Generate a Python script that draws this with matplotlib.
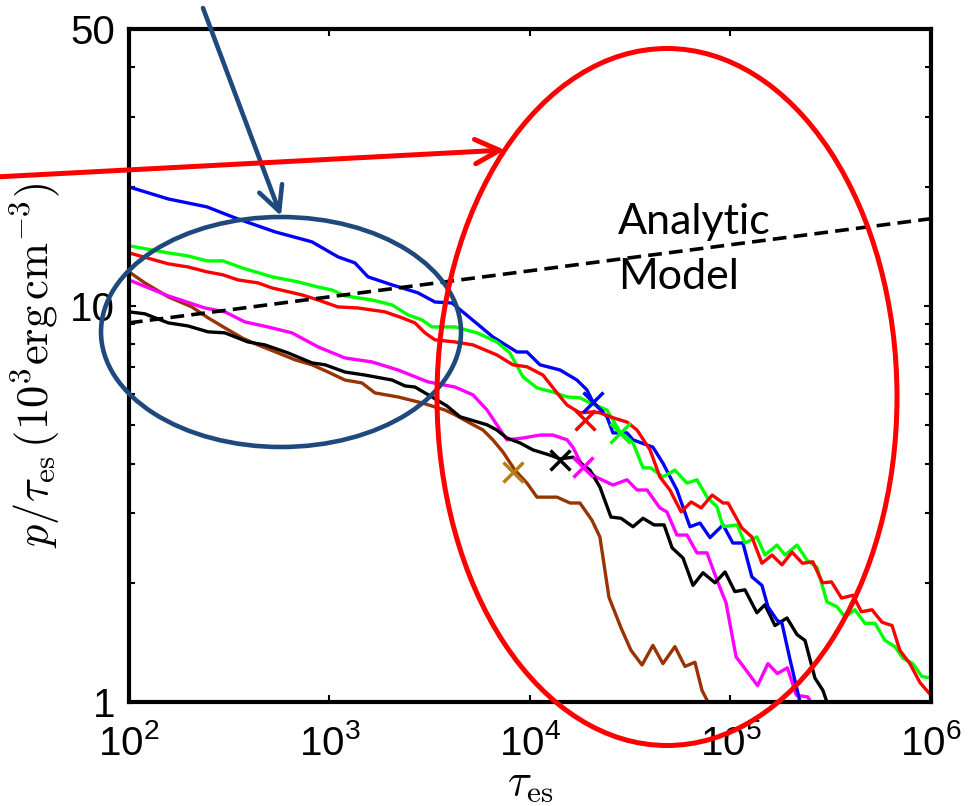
import matplotlib
matplotlib.use("Agg")
import matplotlib.pyplot as plt
from matplotlib.patches import Ellipse
from matplotlib.ticker import NullLocator, NullFormatter

plt.rcParams['font.family'] = ['Liberation Sans', 'DejaVu Sans']
plt.rcParams['mathtext.fontset'] = 'cm'

# --- data (tau_es, p/tau_es) ---
blue_tau = [100, 157, 245, 338, 535, 818, 1102, 1340, 1556, 2051, 2762, 3358, 4083, 5023, 6531, 8610, 9661,
            11220, 14130, 17140, 19230, 20610, 24210, 25940, 30480, 32660, 41030, 46030, 54080, 62810, 70470,
            79070, 91830, 102800, 115400, 127900, 143600, 153800, 170600, 180700, 198200, 222300]
blue_p = [19.97, 18.62, 17.78, 16.68, 15.38, 14.51, 13.30, 12.84, 11.84, 11.30, 10.79, 10.23, 10.17, 9.33, 8.35,
          7.65, 7.65, 7.10, 6.89, 6.50, 6.14, 5.72, 5.25, 4.78, 4.78, 4.59, 4.40, 4.01, 3.43, 2.77, 2.83, 2.60,
          2.80, 2.52, 2.52, 2.07, 1.97, 1.74, 1.61, 1.58, 1.28, 1.00]

green_tau = [100, 157, 197, 245, 294, 367, 517, 697, 877, 1029, 1194, 1630, 2051, 2466, 2892, 3245, 4228, 5446,
             6839, 7943, 9226, 10840, 13030, 15310, 17750, 19910, 24210, 28120, 32660, 36640, 40110, 46030,
             52840, 60670, 68080, 76380, 85700, 91830, 107900, 118100, 135500, 148600, 170600, 187100, 214800,
             241000, 270000, 302900, 339800, 372400, 417800, 468800, 526000, 590200, 660700, 724400, 812800,
             901500, 1000000]
green_p = [14.18, 13.61, 13.37, 12.99, 12.99, 12.47, 11.84, 11.50, 11.16, 10.97, 10.60, 10.35, 10.06, 9.49, 9.22,
           8.85, 8.85, 8.55, 8.11, 7.61, 6.62, 6.21, 6.06, 5.89, 5.86, 5.69, 5.46, 4.81, 4.51, 3.90, 3.90, 3.70,
           3.85, 3.57, 3.64, 3.29, 3.11, 2.77, 2.80, 2.52, 2.61, 2.35, 2.49, 2.35, 2.49, 2.28, 2.19, 1.79, 1.74,
           1.64, 1.71, 1.58, 1.58, 1.43, 1.38, 1.29, 1.25, 1.16, 1.15]

red_tau = [100, 157, 197, 245, 294, 350, 440, 517, 729, 877, 1102, 1387, 1892, 2301, 2669, 2995, 3358, 4228, 5200,
           6839, 8222, 9661, 11610, 13650, 15310, 17750, 20610, 22330, 25940, 30480, 34200, 39720, 44460, 49890,
           56750, 63680, 71450, 81100, 91830, 97270, 114000, 127900, 143600, 161100, 180700, 202800, 228600,
           257400, 287700, 319200, 358100, 408300, 449800, 508000, 570200, 639700, 699800, 785200, 881000, 1000000]
red_p = [13.61, 12.77, 12.54, 12.19, 11.98, 11.63, 11.43, 11.10, 10.66, 10.35, 9.94, 9.88, 9.66, 9.33, 9.06, 8.55,
         8.21, 8.11, 7.97, 7.52, 7.10, 7.02, 6.69, 6.03, 5.62, 5.37, 5.40, 5.37, 5.22, 5.09, 4.86, 4.33, 3.70, 3.43,
         3.02, 3.20, 3.09, 3.33, 3.18, 3.18, 2.75, 2.61, 2.24, 2.35, 2.22, 2.39, 2.24, 2.26, 2.00, 2.01, 1.83, 1.86,
         1.69, 1.71, 1.59, 1.56, 1.35, 1.25, 1.12, 1.04]

magenta_tau = [100, 157, 239, 301, 379, 493, 650, 877, 1194, 1630, 2198, 3099, 4228, 5200, 6110, 7674, 9226,
               11220, 13030, 15310, 16370, 18370, 21330, 25940, 30480, 34200, 38370, 44460, 48190, 54080, 60670,
               68080, 76380, 85700, 95060, 106700, 120200, 136500, 153800, 171400, 192300, 213300, 243200, 254700]
magenta_p = [11.63, 10.60, 9.88, 9.66, 9.11, 8.85, 8.55, 7.88, 7.39, 7.22, 6.89, 6.43, 6.24, 5.96, 5.46, 4.59,
             4.64, 4.72, 4.72, 4.59, 4.40, 3.92, 3.70, 3.53, 3.64, 3.43, 3.43, 3.09, 3.02, 2.64, 2.64, 2.38, 2.38,
             2.03, 1.78, 1.30, 1.20, 1.10, 1.25, 1.18, 1.22, 1.04, 1.03, 0.99]

black_tau = [100, 120, 157, 197, 248, 301, 392, 477, 621, 818, 951, 1194, 1503, 2051, 2384, 2669, 3245, 3855, 4477,
             6110, 6839, 7674, 8913, 10350, 12590, 14130, 16370, 19910, 22330, 25350, 28440, 32660, 36640, 41590,
             46670, 51170, 57980, 65030, 72940, 83750, 93970, 105200, 118100, 135500, 148600, 166700, 191400,
             214800, 235500, 263800, 289100, 302900]
black_p = [9.66, 9.55, 9.06, 8.90, 8.60, 8.55, 8.11, 7.97, 7.61, 7.18, 7.10, 6.81, 6.69, 6.50, 6.28, 6.24, 5.89,
           5.59, 5.25, 5.01, 4.86, 4.64, 4.51, 4.33, 4.20, 4.11, 4.15, 3.85, 3.49, 2.93, 2.91, 2.77, 2.91, 2.80,
           2.80, 2.45, 2.31, 1.97, 2.12, 2.00, 2.13, 1.90, 1.92, 1.68, 1.76, 1.56, 1.63, 1.48, 1.43, 1.15, 1.07, 1.00]

brown_tau = [100, 120, 157, 206, 248, 301, 367, 440, 553, 673, 818, 984, 1194, 1452, 1687, 2198, 2892, 3767, 4228,
             5023, 5834, 6531, 7328, 8414, 9661, 10840, 13650, 15850, 17750, 20360, 22330, 24770, 28440, 31920,
             36220, 41030, 46030, 52840, 59290, 66530, 72110, 77270]
brown_p = [12.19, 11.43, 10.54, 9.94, 9.33, 8.80, 8.30, 7.97, 7.61, 7.31, 7.10, 6.81, 6.50, 6.39, 6.03, 5.89, 5.69,
           5.46, 5.31, 5.06, 4.86, 4.59, 4.28, 3.85, 3.57, 3.29, 3.29, 3.18, 3.18, 2.88, 2.61, 1.84, 1.54, 1.35,
           1.24, 1.39, 1.25, 1.38, 1.23, 1.26, 1.07, 1.00]

# cross markers
mark_tau = [20610, 18790, 28120, 18370, 14130, 8222]
mark_p = [5.72, 5.15, 4.78, 3.92, 4.09, 3.81]
mark_col = ['#0000ff', '#ff0000', '#00ff00', '#ff00ff', '#000000', '#b5800f']

# analytic model (straight in log-log)
model_tau = [1e2, 1e6]
model_p = [9.06, 16.6]

series = [
    (brown_tau, brown_p, '#993300'),
    (magenta_tau, magenta_p, '#ff00ff'),
    (black_tau, black_p, '#000000'),
    (blue_tau, blue_p, '#0000ff'),
    (green_tau, green_p, '#00ff00'),
    (red_tau, red_p, '#ff0000'),
]

fig = plt.figure(figsize=(9.74, 8.06), dpi=100)
ax = fig.add_axes([0.1324, 0.1290, 0.8234, 0.8350])

for t, p, c in series:
    ax.plot(t, p, color=c, lw=2.4)
for t, p, c in zip(mark_tau, mark_p, mark_col):
    ax.plot(t, p, 'x', color=c, ms=14, mew=2.5)
ax.plot(model_tau, model_p, color='k', lw=2.6, dashes=(3.8, 2.0))

ax.set_xscale('log')
ax.set_yscale('log')
ax.set_xlim(1e2, 1e6)
ax.set_ylim(1, 50)

ax.set_xticks([1e2, 1e3, 1e4, 1e5, 1e6])
ax.set_xticklabels([r'$\mathregular{10^{%d}}$' % k for k in range(2, 7)])
ax.xaxis.set_minor_locator(NullLocator())
ax.set_yticks([1, 10, 50])
ax.set_yticklabels(['1', '10', '50'])
ax.set_yticks([2, 3, 4, 5, 6, 7, 8, 9, 20, 30, 40], minor=True)
ax.yaxis.set_minor_formatter(NullFormatter())

ax.tick_params(which='both', direction='in', top=True, right=True, labelsize=29, width=1.5)
ax.tick_params(which='major', length=5)
ax.tick_params(axis='x', which='major', pad=16)
ax.tick_params(axis='y', which='major', pad=10)
ax.tick_params(which='minor', length=4)
for s in ax.spines.values():
    s.set_linewidth(3)

ax.set_xlabel(r'$\tau_{\rm es}$', fontsize=32)
ax.xaxis.set_label_coords(0.5, -0.09)
ax.set_ylabel(r'$p/\tau_{\rm es}\,(10^3{\rm erg\,cm^{-3}})$', fontsize=32)
ax.yaxis.set_label_coords(-0.083, 0.5)

# --- annotations drawn on top, in figure pixel units ---
ov = fig.add_axes([0, 0, 1, 1], zorder=5)
ov.set_xlim(0, 974)
ov.set_ylim(806, 0)
ov.patch.set_alpha(0)
ov.axis('off')

ov.add_patch(Ellipse((281, 332), 360, 230, fill=False, ec='#1f497d', lw=3.3))
ov.add_patch(Ellipse((667, 397), 460, 697, fill=False, ec='#ff0000', lw=3.6))
ov.annotate('', xy=(281, 216), xytext=(203, 8),
            arrowprops=dict(arrowstyle='->,head_length=0.7,head_width=0.35', color='#1f497d', lw=3.3,
                            mutation_scale=25, shrinkA=0, shrinkB=0))
ov.annotate('', xy=(505, 150), xytext=(-5, 177),
            arrowprops=dict(arrowstyle='->,head_length=0.7,head_width=0.35', color='#ff0000', lw=3.6,
                            mutation_scale=25, shrinkA=0, shrinkB=0))
ov.text(618, 203, 'Analytic\nModel', family='Lato', fontsize=31, ha='left', va='top', linespacing=1.55)

fig.savefig('out.png', dpi=100)
